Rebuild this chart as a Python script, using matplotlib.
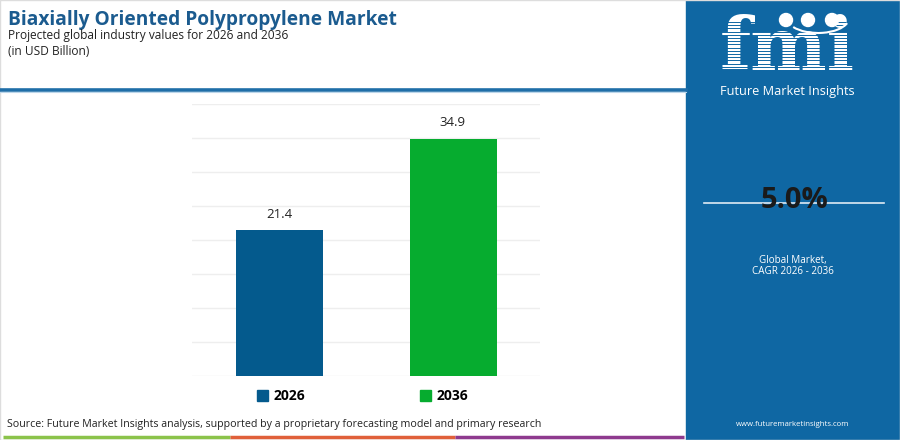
import numpy as np
import matplotlib
matplotlib.use("Agg")
import matplotlib.pyplot as plt
from matplotlib.patches import Rectangle, Patch, Circle, Arc
from matplotlib.lines import Line2D

years = ["2026", "2036"]
values = [21.4, 34.9]
bar_colors = ["#045a8d", "#06ac2f"]
cagr = "5.0%"

W, H = 900, 440
plt.rcParams["font.family"] = ["Open Sans", "DejaVu Sans"]

fig = plt.figure(figsize=(W / 100, H / 100), dpi=100)
fig.patch.set_facecolor("white")


def fx(px):
    return px / W


def fy(py):
    return 1 - py / H


# frame and header rule
fig.patches.append(Rectangle((0, 0), 1, 1, transform=fig.transFigure,
                             fill=False, edgecolor="#dddddd", lw=1))
fig.add_artist(Line2D([0, fx(686)], [fy(90), fy(90)], transform=fig.transFigure,
                      color="#1f6ea8", lw=2.6))
fig.add_artist(Line2D([0, fx(686)], [fy(92.5), fy(92.5)], transform=fig.transFigure,
                      color="#bcd6ea", lw=0.8))

fig.text(fx(8), fy(20), "Biaxially Oriented Polypropylene Market", fontsize=13.8,
         fontweight="bold", color="#1b5b8f", va="center")
fig.text(fx(8), fy(35), "Projected global industry values for 2026 and 2036",
         fontsize=8.6, color="#222222", va="center")
fig.text(fx(8), fy(51), "(in USD Billion)", fontsize=8.6, color="#222222", va="center")

# bottom colour strip
strip = [(3, 230, "#8bc34a"), (230, 455, "#e0603a"), (455, 684, "#8e3a8e")]
for x0, x1, c in strip:
    fig.add_artist(Line2D([fx(x0), fx(x1)], [fy(437), fy(437)], transform=fig.transFigure,
                          color=c, lw=2.5, solid_capstyle="butt"))
fig.text(fx(7), fy(424), "Source: Future Market Insights analysis, supported by a proprietary "
         "forecasting model and primary research", fontsize=7.7, color="#222222", va="center")

# main chart
ax = fig.add_axes([fx(192), fy(376), fx(540) - fx(192), (376 - 104) / H])
x = np.arange(len(years))
bars = ax.bar(x, values, width=0.5, color=bar_colors, zorder=3)
ax.set_xlim(-0.5, 1.5)
ax.set_ylim(0, 40)
ax.set_yticks(np.arange(0, 41, 5))
ax.grid(axis="y", color="#eeeeee", lw=1, zorder=0)
ax.tick_params(left=False, bottom=False, labelleft=False, labelbottom=False)
for s in ax.spines.values():
    s.set_visible(False)
for b, v in zip(bars, values):
    ax.annotate(f"{v}", (b.get_x() + b.get_width() / 2, v), xytext=(0, 7),
                textcoords="offset points", ha="center", va="bottom",
                fontsize=9.5, color="#222222")

handles = [Patch(color=c, label=y) for c, y in zip(bar_colors, years)]
leg = ax.legend(handles=handles, loc="center", bbox_to_anchor=(0.49, -0.075), ncol=2,
                frameon=False, handlelength=0.75, handleheight=0.75, handletextpad=0.4,
                columnspacing=8.3, prop={"weight": "bold", "size": 10})

# right panel
panel_color = "#0f67a3"
fig.patches.append(Rectangle((fx(686), 0), 1 - fx(686), 1, transform=fig.transFigure,
                             color=panel_color, zorder=0))
fig.text(fx(787), fy(50), "fmi", fontsize=52, fontweight="bold", family="DejaVu Serif",
         color="white", ha="center", va="center", zorder=2)
for yy in np.arange(22, 78, 3.2):
    fig.add_artist(Line2D([fx(715), fx(860)], [fy(yy), fy(yy)], transform=fig.transFigure,
                          color=panel_color, lw=0.7, zorder=3))
inch = fig.dpi_scale_trans
for cx in [786, 808, 832]:
    fig.patches.append(Circle((cx / 100, (H - 20) / 100), 0.065, transform=inch,
                              color="white", zorder=4))
fig.patches.append(Arc((818 / 100, (H - 18) / 100), 0.62, 0.3, theta1=200, theta2=350,
                       transform=inch, color="white", lw=1.5, zorder=4))
fig.text(fx(787), fy(91), "Future Market Insights", fontsize=9.2, color="white",
         ha="center", va="center")

fig.add_artist(Line2D([fx(704), fx(884)], [fy(203), fy(203)], transform=fig.transFigure,
                      color="#dfeaf4", lw=1.2, zorder=2))
fig.text(fx(795), fy(200), cagr, fontsize=21, fontweight="bold", color="#1a1a1a",
         ha="center", va="center", zorder=3)
fig.text(fx(793), fy(260), "Global Market,", fontsize=7.1, color="white",
         ha="center", va="center")
fig.text(fx(793), fy(272), "CAGR 2026 - 2036", fontsize=7.1, color="white",
         ha="center", va="center")
fig.text(fx(793), fy(424), "www.futuremarketinsights.com", fontsize=5.6, color="white",
         ha="center", va="center")

fig.savefig("out.png", dpi=100, facecolor="white")
